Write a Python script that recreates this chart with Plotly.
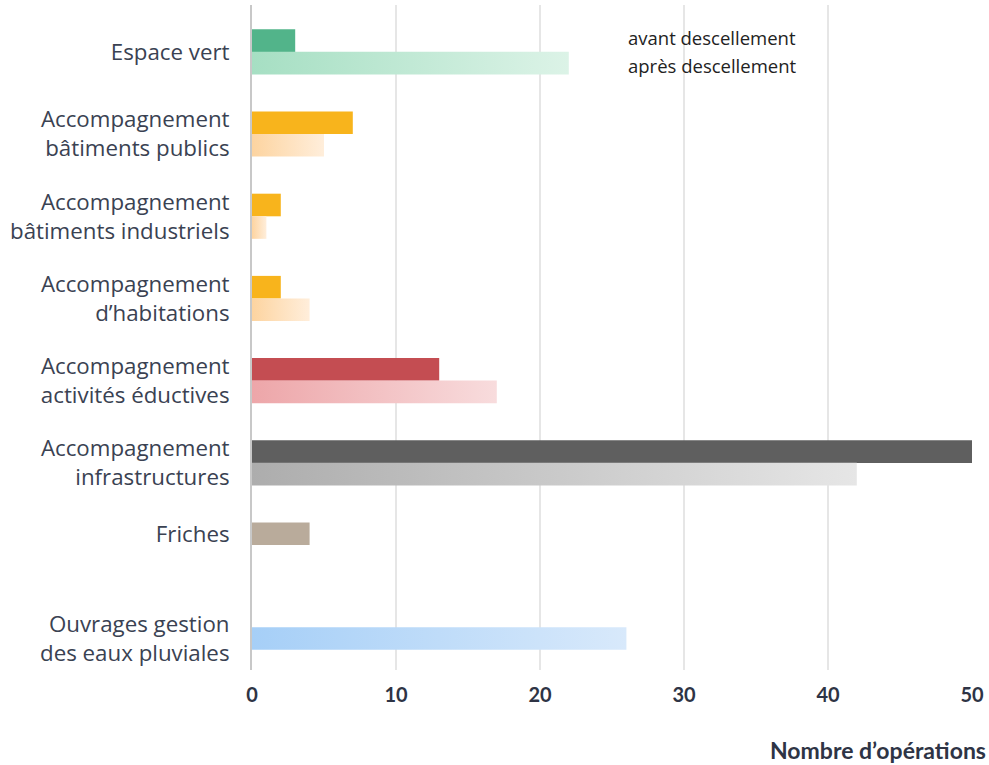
import plotly.graph_objects as go

categories = [
    "Espace vert",
    "Accompagnement<br>bâtiments publics",
    "Accompagnement<br>bâtiments industriels",
    "Accompagnement<br>d’habitations",
    "Accompagnement<br>activités éductives",
    "Accompagnement<br>infrastructures",
    "Friches",
    "Ouvrages gestion<br>des eaux pluviales",
]
avant = [3, 7, 2, 2, 13, 50, 4, None]
apres = [22, 5, 1, 4, 17, 42, None, 26]
series_names = ["avant descellement", "après descellement"]
x_ticks = [0, 10, 20, 30, 40, 50]
x_title = "Nombre d’opérations"

avant_colors = ["#52b48a", "#f8b41c", "#f8b41c", "#f8b41c", "#c44d52", "#5f5f5f", "#b9ab9b", "#a9d1f7"]
apres_grad = [
    ("#a6dfc3", "#dcf3e7"),
    ("#fdd4a0", "#ffeedb"),
    ("#fdd4a0", "#ffeedb"),
    ("#fdd4a0", "#ffeedb"),
    ("#eda6a9", "#f8dcdd"),
    ("#adadad", "#e6e6e6"),
    ("#d8cfc5", "#f2eee9"),
    ("#a6cff7", "#d8e9fb"),
]

BAR_W = 0.275
OFF = 0.137

fig = go.Figure()

idx = list(range(len(categories)))

# avant bars (solid)
av_y = [i - OFF for i, v in zip(idx, avant) if v is not None]
av_x = [v for v in avant if v is not None]
av_c = [avant_colors[i] for i, v in zip(idx, avant) if v is not None]
fig.add_trace(go.Bar(
    x=av_x, y=av_y, orientation="h", width=BAR_W,
    marker=dict(color=av_c, line=dict(width=0)),
    name=series_names[0], showlegend=False, hoverinfo="x",
))

# après bars (gradient fill)
for i, v in zip(idx, apres):
    if v is None:
        continue
    y0, y1 = i + OFF - BAR_W / 2, i + OFF + BAR_W / 2
    c0, c1 = apres_grad[i]
    fig.add_trace(go.Scatter(
        x=[0, v, v, 0, 0], y=[y0, y0, y1, y1, y0],
        mode="lines", line=dict(width=0), fill="toself",
        fillgradient=dict(type="horizontal", colorscale=[[0, c0], [1, c1]]),
        name=series_names[1], showlegend=False, hoverinfo="skip",
    ))

# tick positions: centre of existing bars per category
tickvals = []
for i, (a, b) in enumerate(zip(avant, apres)):
    if a is not None and b is not None:
        tickvals.append(i)
    elif a is not None:
        tickvals.append(i - OFF)
    else:
        tickvals.append(i + OFF)

label_font = dict(family="Open Sans, Lato, sans-serif", size=22.3, color="#3a4252")

fig.update_layout(
    width=989, height=765,
    margin=dict(l=252, r=17, t=5, b=95),
    plot_bgcolor="white", paper_bgcolor="white",
    showlegend=False,
    xaxis=dict(
        range=[0, 50], tickvals=x_ticks, showgrid=True, gridcolor="#e6e6e6", gridwidth=2,
        zeroline=False, showline=False,
        tickfont=dict(family="Lato, sans-serif", size=20, color="#2e3445", weight="bold"),
        ticklabelstandoff=11,
    ),
    yaxis=dict(
        range=[7.52, -0.57], tickvals=tickvals, ticktext=categories,
        showgrid=False, zeroline=False, showline=True, linecolor="#c8c8c8", linewidth=2,
        tickfont=label_font, ticklabelstandoff=16,
    ),
    annotations=[
        dict(text=series_names[0], xref="paper", yref="paper", x=0.519, y=0.951,
             xanchor="left", yanchor="middle", showarrow=False,
             font=dict(family="Open Sans, sans-serif", size=18.5, color="#222222")),
        dict(text=series_names[1], xref="paper", yref="paper", x=0.519, y=0.909,
             xanchor="left", yanchor="middle", showarrow=False,
             font=dict(family="Open Sans, sans-serif", size=18.5, color="#222222")),
        dict(text=x_title, xref="paper", yref="paper", x=1.022, y=-0.12,
             xanchor="right", yanchor="middle", showarrow=False,
             font=dict(family="Lato, sans-serif", size=23, color="#2e3445", weight="bold")),
    ],
)

fig.write_html("out.html", config={"displayModeBar": False},
               post_script="document.body.style.margin='0';")
